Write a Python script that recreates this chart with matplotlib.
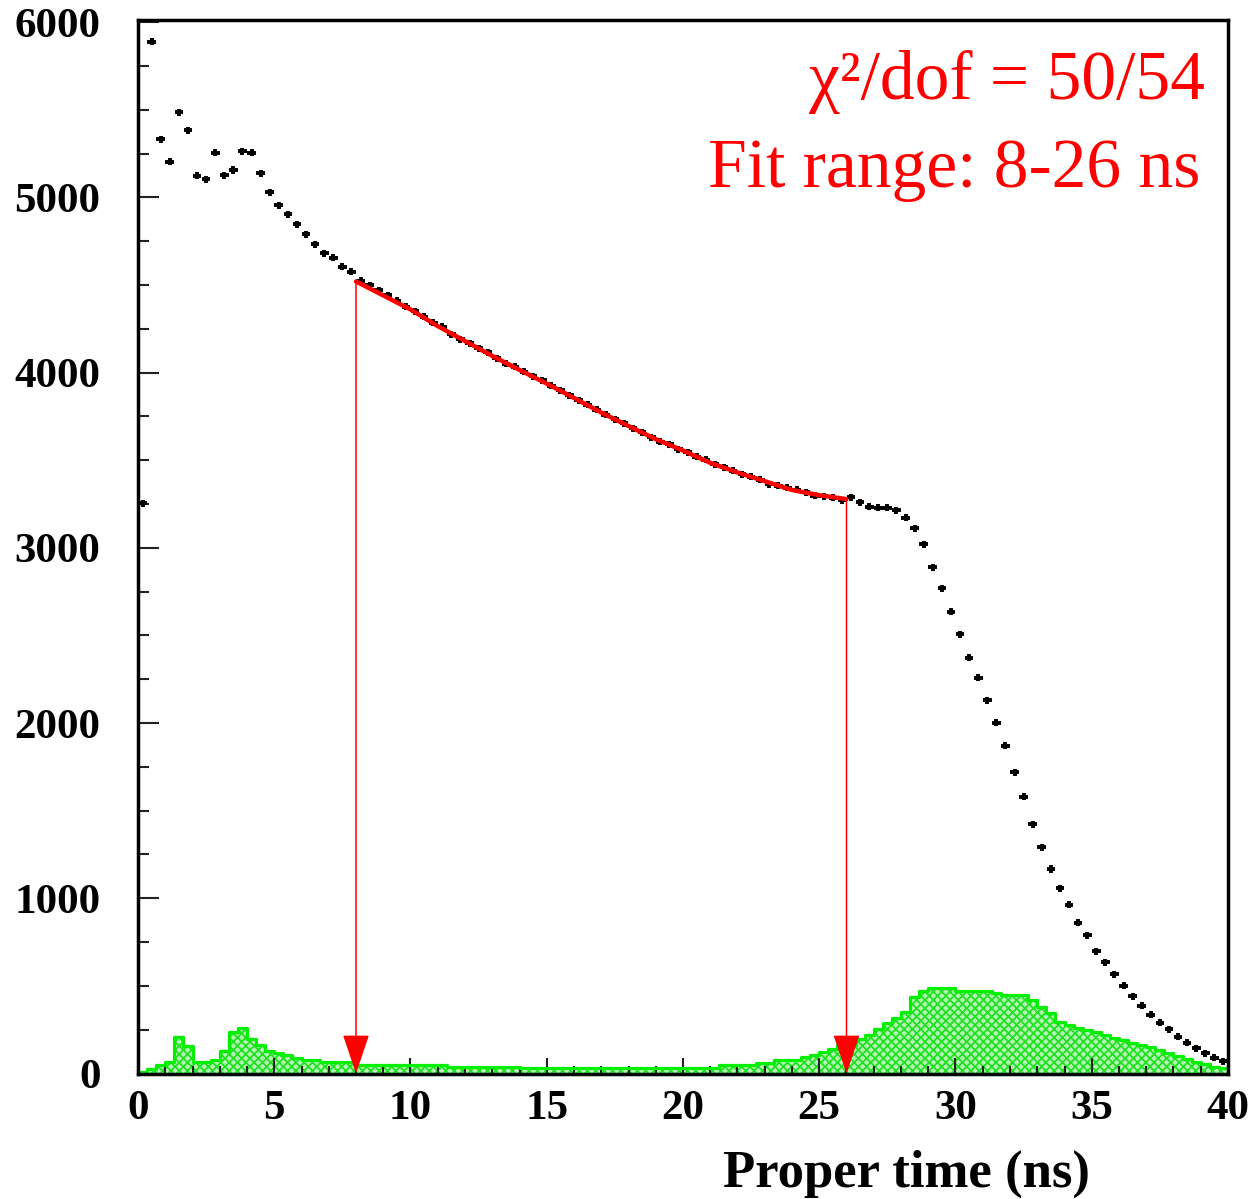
import numpy as np
import matplotlib
matplotlib.use('Agg')
from matplotlib import pyplot as plt
from matplotlib.ticker import MultipleLocator

# Binning: 120 bins of 1/3 ns from 0 to 40 ns
bin_lo = 0.0
bin_hi = 40.0
n_bins = 120

# Proper time histogram (black points), one value per bin
counts = [3255, 5888, 5331, 5203, 5485, 5384, 5123, 5102, 5254, 5127,
          5156, 5264, 5254, 5137, 5028, 4956, 4903, 4847, 4789, 4731,
          4680, 4655, 4604, 4575, 4524, 4499, 4470, 4442, 4410, 4375,
          4350, 4318, 4285, 4262, 4218, 4190, 4168, 4140, 4115, 4082,
          4050, 4032, 4004, 3978, 3955, 3925, 3898, 3870, 3842, 3815,
          3788, 3760, 3735, 3712, 3682, 3660, 3632, 3605, 3590, 3562,
          3545, 3520, 3502, 3478, 3460, 3440, 3420, 3405, 3388, 3362,
          3355, 3342, 3330, 3318, 3298, 3294, 3285, 3272, 3288, 3259,
          3234, 3229, 3229, 3215, 3172, 3111, 3020, 2888, 2769, 2635,
          2506, 2373, 2259, 2131, 2002, 1869, 1719, 1580, 1422, 1291,
          1167, 1057, 962, 861, 790, 699, 635, 566, 501, 442,
          387, 334, 290, 252, 210, 176, 144, 115, 90, 71]

# Background histogram (green)
background = [10, 24, 48, 64, 206, 157, 64, 64, 77, 130,
              235, 262, 195, 163, 130, 119, 105, 90, 77, 77,
              64, 64, 64, 64, 48, 48, 48, 48, 48, 48,
              48, 48, 48, 48, 35, 35, 35, 35, 35, 35,
              35, 35, 30, 30, 30, 30, 30, 30, 30, 30,
              30, 30, 30, 30, 30, 30, 30, 30, 30, 30,
              30, 30, 30, 30, 48, 48, 48, 48, 62, 62,
              77, 77, 77, 92, 106, 124, 140, 163, 163, 195,
              220, 252, 290, 315, 353, 438, 472, 486, 486, 486,
              472, 472, 472, 472, 458, 448, 448, 448, 419, 381,
              343, 296, 277, 258, 250, 239, 220, 201, 190, 175,
              163, 149, 135, 118, 100, 81, 67, 54, 39, 30]

fit_t = [8, 9, 10, 11, 12, 13, 14, 15, 16, 17, 18, 19, 20, 21, 22, 23, 24, 25, 26]
fit_v = [4520, 4440, 4360, 4265, 4180, 4095, 4015, 3937, 3855, 3772,
         3695, 3620, 3555, 3485, 3430, 3380, 3330, 3300, 3278]

fit_lo = 8
fit_hi = 26
chi2_text = '\u03c7\u00b2/dof = 50/54'
range_text = 'Fit range: 8-26 ns'

edges = np.linspace(bin_lo, bin_hi, n_bins + 1)
centers = 0.5 * (edges[:-1] + edges[1:])
half = 0.5 * (edges[1] - edges[0])

serif = 'Liberation Serif'
plt.rcParams['font.family'] = serif
plt.rcParams['hatch.linewidth'] = 1.3

fig = plt.figure(figsize=(12.49, 11.99), dpi=100)
ax = fig.add_axes([138 / 1249, 1 - 1073.5 / 1199, 1090 / 1249, (1073.5 - 20) / 1199])

# green background, hatched like the ROOT fill
bg_y = np.append(background, background[-1])
ax.fill_between(edges, bg_y, step='post', facecolor='#b4f7b4',
                edgecolor='#22e022', hatch='xxxx', linewidth=0, zorder=1)
ax.step(edges, bg_y, where='post', color='#00f000', lw=2.3, zorder=2)

# data points with error bars
ax.errorbar(centers, counts, xerr=half * 0.95, yerr=20, fmt='none',
            ecolor='black', elinewidth=2.8, capsize=0, zorder=4)

# fit
ax.plot(fit_t, fit_v, color='#ff0000', lw=3.2, zorder=5, solid_capstyle='round')

# arrows marking the fit range
for xa, ya in [(fit_lo, fit_v[0]), (fit_hi, fit_v[-1])]:
    ax.annotate('', xy=(xa, 0), xytext=(xa, ya),
                arrowprops=dict(arrowstyle='-|>,head_length=2.5,head_width=0.85',
                                color='#ff0000', lw=1.1, shrinkA=0, shrinkB=0),
                zorder=6)

ax.set_xlim(bin_lo, bin_hi)
ax.set_ylim(0, 6012)

ax.xaxis.set_major_locator(MultipleLocator(5))
ax.xaxis.set_minor_locator(MultipleLocator(1))
ax.yaxis.set_major_locator(MultipleLocator(1000))
ax.yaxis.set_minor_locator(MultipleLocator(250))

ax.tick_params(axis='x', which='major', direction='in', length=11.5, width=1.5,
               pad=12, labelsize=31, color='#222222')
ax.tick_params(axis='x', which='minor', direction='in', length=6, width=1.5,
               color='#222222')
ax.tick_params(axis='y', which='major', direction='in', length=15, width=1.5,
               pad=27, labelsize=31, color='#222222')
ax.tick_params(axis='y', which='minor', direction='in', length=8, width=1.5,
               color='#222222')
ax.tick_params(top=False, right=False)
for lab in ax.get_xticklabels() + ax.get_yticklabels():
    lab.set_fontweight('bold')
    lab.set_family(serif)

for sp in ax.spines.values():
    sp.set_linewidth(2.5)
    sp.set_zorder(7)

fig.text(1090 / 1249, 1 - 1187 / 1199, 'Proper time (ns)', ha='right',
         va='baseline', fontsize=38, fontweight='bold', family=serif)

fig.text(1205 / 1249, 1 - 99 / 1199, chi2_text, ha='right', va='baseline',
         fontsize=50, color='#ff0000', family=serif)
fig.text(1200 / 1249, 1 - 187 / 1199, range_text, ha='right', va='baseline',
         fontsize=50, color='#ff0000', family=serif)

fig.savefig('out.png', dpi=100)
